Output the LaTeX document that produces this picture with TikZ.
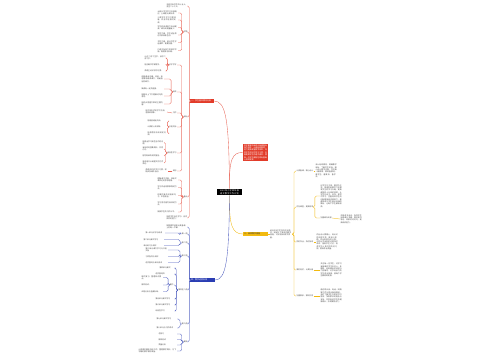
\documentclass[tikz,border=0pt]{standalone}
\usepackage{fontspec}
\setmainfont{Noto Sans CJK SC}
\XeTeXlinebreaklocale "zh"
\XeTeXlinebreakskip=0pt plus 0.5pt
\definecolor{mapred}{HTML}{E23B29}
\definecolor{mapblue}{HTML}{2A3DB3}
\definecolor{mapyellow}{HTML}{F2BA10}
\definecolor{leafgray}{HTML}{4A4A4A}

\begin{document}
\begin{tikzpicture}[x=1pt, y=-1pt]
        \tikzstyle{root} = [rectangle, fill=black, text=white, align=center, text width=23pt, inner sep=0.8pt, font=\fontsize{2.1}{2.7}\selectfont]
        \tikzstyle{mainbox} = [rectangle, text=white, align=left, inner sep=0.8pt, font=\fontsize{2}{2.5}\selectfont]
        \tikzstyle{leaf} = [text=leafgray, align=left, inner sep=0.3pt, font=\fontsize{1.85}{2.3}\selectfont]
        \tikzstyle{lab} = [text=leafgray, inner sep=0.3pt, font=\fontsize{1.85}{2.3}\selectfont]
        \tikzstyle{redline} = [draw=mapred!80, line width=0.35pt, rounded corners=1.5pt]
        \tikzstyle{blueline} = [draw=mapblue!85, line width=0.35pt, rounded corners=1.5pt]
        \tikzstyle{yellowline} = [draw=mapyellow, line width=0.35pt, rounded corners=1.5pt]

        \fill[white] (0,0) rectangle (500,360);
        \useasboundingbox (0,0) rectangle (500,360);

        % centre and the four main boxes
        \node [root] (title) at (229.5,192) {2023年小学四年级语文教学工作计划};
        \node [mainbox, fill=mapred, text width=22pt] (analysis) at (202,101) {一、学生基本情况分析};
        \node [mainbox, fill=mapred, text width=23pt, font=\fontsize{1.9}{2.4}\selectfont] (guide) at (255.5,152.5) {本学期我将继续以新课程标准为指导，认真钻研教材，努力提高课堂教学效率，培养学生良好的学习习惯，全面提高学生的语文素养，使每一位学生都能在原有基础上得到发展。};
        \node [mainbox, fill=mapyellow, text=black!80, text width=23pt] (measures) at (255.5,234) {三、具体教学措施};
        \node [mainbox, fill=mapblue, text width=23pt] (schedule) at (202.5,280) {四、教学进度安排};

        \path [redline] (title.north) .. controls (229,120) and (226,101) .. (analysis.east);
        \path [redline] (title.north) .. controls (229,160) and (232,152) .. (guide.west);
        \path [yellowline] (title.south) .. controls (229,225) and (232,234) .. (measures.west);
        \path [blueline] (title.south) .. controls (229,260) and (226,280) .. (schedule.east);

        % red branch
        \node [leaf, text width=21pt, anchor=east] (r0) at (188,6) {本班共有学生四十五人，男生二十三人。};
        \node [lab, anchor=east] (rA) at (188,32) {学情};
        \node [lab, anchor=east] (rB) at (188,117) {目标};
        \node [lab, anchor=east] (rC) at (188,197) {重点};
        \node [leaf, text width=21pt, anchor=east] (r9) at (188,218) {培养学生自主学习、合作探究的能力。};
        \foreach \n in {r0,rA,rB,rC,r9}
            \path [redline] (analysis.west) -- ++(-0.8,0) |- (\n.east);

        \node [leaf, text width=20pt, anchor=east] (a1) at (178,13) {大部分学生学习态度端正，上课能认真听讲。};
        \node [leaf, text width=20pt, anchor=east] (a2) at (178,20) {少数学生学习习惯较差，作业不能按时完成。};
        \node [leaf, text width=20pt, anchor=east] (a3) at (178,27.5) {学生的阅读能力有待提高，课外阅读量偏少。};
        \node [leaf, text width=20pt, anchor=east] (a4) at (178,35) {写作方面，学生语言表达不够具体生动。};
        \node [leaf, text width=20pt, anchor=east] (a5) at (178,42.5) {书写方面，部分学生字迹潦草，需要加强。};
        \node [leaf, text width=20pt, anchor=east] (a6) at (178,50.5) {口语交际能力发展不平衡，需要多加训练。};
        \foreach \n in {a1,a2,a3,a4,a5,a6}
            \path [redline] (rA.west) -- ++(-1.5,0) |- (\n.east);

        \node [lab, anchor=east] (b1) at (177,65) {识字写字};
        \node [lab, anchor=east] (b2) at (177,92) {阅读};
        \node [lab, anchor=east] (b3) at (177,113) {习作};
        \node [lab, anchor=east] (b4) at (177,127) {口语交际};
        \node [lab, anchor=east] (b5) at (177,153) {综合性学习};
        \node [lab, anchor=east] (b6) at (177,171) {其他};
        \foreach \n in {b1,b2,b3,b4,b5,b6}
            \path [redline] (rB.west) -- ++(-1.5,0) |- (\n.east);

        \node [leaf, text width=22pt, anchor=east] (b11) at (167,58) {认识二百个生字，会写二百个字。};
        \node [leaf, text width=22pt, anchor=east] (b12) at (167,64.5) {能正确书写钢笔字。};
        \node [leaf, text width=22pt, anchor=east] (b13) at (167,71) {养成主动识字的习惯。};
        \foreach \n in {b11,b12,b13}
            \path [redline] (b1.west) -- ++(-1.2,0) |- (\n.east);
        \node [leaf, text width=22pt, anchor=east] (b21) at (164,79) {用普通话正确、流利、有感情地朗读课文，背诵指定的课文。};
        \node [leaf, text width=22pt, anchor=east] (b22) at (164,89) {默读有一定的速度。};
        \node [leaf, text width=22pt, anchor=east] (b23) at (164,96) {能联系上下文理解词句的意思。};
        \node [leaf, text width=22pt, anchor=east] (b24) at (164,104) {能初步把握文章的主要内容。};
        \foreach \n in {b21,b22,b23,b24}
            \path [redline] (b2.west) -- ++(-1.2,0) |- (\n.east);
        \node [leaf, text width=21pt, anchor=east] (b31) at (167,112) {能不拘形式地写下见闻、感受和想象。};
        \path [redline] (b3.west) -- (b31.east);
        \node [leaf, text width=20pt, anchor=east] (b41) at (168,121) {能用普通话交谈。};
        \node [leaf, text width=20pt, anchor=east] (b42) at (168,127) {认真耐心地倾听。};
        \node [leaf, text width=20pt, anchor=east] (b43) at (168,133.5) {能清楚明白地讲述见闻。};
        \foreach \n in {b41,b42,b43}
            \path [redline] (b4.west) -- ++(-1.2,0) |- (\n.east);
        \node [leaf, text width=21pt, anchor=east] (b51) at (164,142.5) {能提出学习和生活中的问题。};
        \node [leaf, text width=21pt, anchor=east] (b52) at (164,149) {有目的地搜集资料，共同讨论。};
        \node [leaf, text width=21pt, anchor=east] (b53) at (164,156) {能写简单的研究报告。};
        \node [leaf, text width=21pt, anchor=east] (b54) at (164,163) {尝试用口头或图文的方式表达。};
        \foreach \n in {b51,b52,b53,b54}
            \path [redline] (b5.west) -- ++(-1.2,0) |- (\n.east);
        \node [leaf, text width=22pt, anchor=east] (b61) at (168,171) {养成良好的学习习惯，积极参加课外活动。};
        \path [redline] (b6.west) -- (b61.east);

        \node [leaf, text width=20pt, anchor=east] (c1) at (178,180) {理解课文内容，体会文章表达的思想感情。};
        \node [leaf, text width=20pt, anchor=east] (c2) at (178,187.5) {学习作者观察事物的方法。};
        \node [leaf, text width=20pt, anchor=east] (c3) at (178,195.5) {积累优美的词语和句子，丰富语言。};
        \node [leaf, text width=20pt, anchor=east] (c4) at (178,204) {学习把内容写具体的方法。};
        \node [leaf, text width=20pt, anchor=east] (c5) at (178,212) {提高学生的习作水平。};
        \foreach \n in {c1,c2,c3,c4,c5}
            \path [redline] (rC.west) -- ++(-1.5,0) |- (\n.east);

        % blue branch
        \node [leaf, text width=21pt, anchor=east] (u0) at (188,227) {按照教学进度认真备课，上好每一节课。};
        \node [lab, anchor=east] (uA) at (188,234) {第一周};
        \node [lab, anchor=east] (uB) at (188,243) {第二周};
        \node [lab, anchor=east] (uC) at (188,256) {第三周};
        \node [lab, anchor=east] (uD) at (188,290) {第四至八周};
        \node [lab, anchor=east] (uE) at (188,324) {第九周};
        \node [lab, anchor=east] (uF) at (188,342) {期末};
        \foreach \n in {u0,uA,uB,uC,uD,uE,uF}
            \path [blueline] (schedule.west) -- ++(-0.8,0) |- (\n.east);

        \node [leaf, text width=19pt, anchor=east] (uA1) at (165,233) {第一单元识字与阅读};
        \path [blueline] (uA.west) -- ++(-1.5,0) |- (uA1.east);
        \node [leaf, text width=20pt, anchor=east] (uB1) at (164,239.5) {第二单元课文学习};
        \node [leaf, text width=20pt, anchor=east] (uB2) at (164,245.5) {单元练习与讲评};
        \foreach \n in {uB1,uB2}
            \path [blueline] (uB.west) -- ++(-1.5,0) |- (\n.east);
        \node [leaf, text width=22pt, anchor=east] (uC1) at (168,250) {第三单元课文学习与口语交际};
        \node [leaf, text width=22pt, anchor=east] (uC2) at (168,256.5) {习作指导与讲评};
        \node [leaf, text width=22pt, anchor=east] (uC3) at (168,262.5) {语文园地与单元测试};
        \foreach \n in {uC1,uC2,uC3}
            \path [blueline] (uC.west) -- ++(-1.5,0) |- (\n.east);

        \node [leaf, text width=16pt, anchor=east] (uD1) at (176,268) {第四单元课文};
        \node [leaf, text width=20pt, anchor=east] (uD2) at (176,274) {语文园地四};
        \node [lab, anchor=east] (uD3) at (174,285) {期中};
        \node [leaf, text width=20pt, anchor=east] (uD4) at (176,299) {第五单元课文学习};
        \node [leaf, text width=20pt, anchor=east] (uD5) at (176,305) {第六单元课文学习};
        \node [leaf, text width=20pt, anchor=east] (uD6) at (176,311) {综合性学习};
        \foreach \n in {uD1,uD2,uD3,uD4,uD5,uD6}
            \path [blueline] (uD.west) -- ++(-1.5,0) |- (\n.east);
        \node [leaf, text width=21pt, anchor=east] (uD31) at (163,277.5) {期中复习，整理知识要点。};
        \node [leaf, text width=21pt, anchor=east] (uD32) at (163,285) {期中测试。};
        \node [leaf, text width=21pt, anchor=east] (uD33) at (163,291.5) {试卷分析与查漏补缺。};
        \foreach \n in {uD31,uD32,uD33}
            \path [blueline] (uD3.west) -- ++(-1.2,0) |- (\n.east);

        \node [leaf, text width=20pt, anchor=east] (uE1) at (177,319) {第七单元课文学习};
        \node [leaf, text width=20pt, anchor=east] (uE2) at (177,328) {第八单元与习作讲评};
        \foreach \n in {uE1,uE2}
            \path [blueline] (uE.west) -- ++(-1.5,0) |- (\n.east);
        \node [leaf, text width=18pt, anchor=east] (uF1) at (177,334) {总复习};
        \node [leaf, text width=18pt, anchor=east] (uF2) at (177,339.5) {期末测试};
        \node [leaf, text width=18pt, anchor=east] (uF3) at (177,345) {质量分析};
        \node [leaf, text width=38pt, anchor=east] (uF4) at (177,351) {认真做好期末总结工作，整理教学资料，为下学期的教学做好准备。};
        \foreach \n in {uF1,uF2,uF3,uF4}
            \path [blueline] (uF.west) -- ++(-1.5,0) |- (\n.east);

        % yellow branch
        \node [leaf, text width=22pt] (intro) at (281,234) {结合本班学生的实际情况，制定以下具体的教学措施，切实提高教学质量。};
        \path [yellowline] (measures.east) -- (intro.west);
        \node [lab, anchor=west] (y1) at (296,171) {认真备课，精心设计};
        \node [lab, anchor=west] (y2) at (296,207) {优化课堂，提高效率};
        \node [lab, anchor=west] (y3) at (296,242) {抓好作业，及时批改};
        \node [lab, anchor=west] (y4) at (296,270) {做好培优，认真补差};
        \node [lab, anchor=west] (y5) at (296,296) {加强联系，家校共育};
        \foreach \n in {y1,y2,y3,y4,y5}
            \path [yellowline] (intro.east) -- ++(1.5,0) |- (\n.west);

        \node [leaf, text width=22pt, anchor=west] (y11) at (315,171) {深入钻研教材，明确教学目标，了解学生实际，精心设计教学过程，写好每一篇教案，做到备教材、备学生、备教法、备学法。};
        \path [yellowline] (y1.east) -- (y11.west);
        \node [leaf, text width=22pt, anchor=west] (y21) at (320,196) {以学生为主体，教师为主导，采用多种教学方法激发学生的学习兴趣，提高课堂四十分钟的效率，让学生在自主、合作、探究中学习，注重培养学生的创新精神和实践能力，使课堂成为学生展示自我的舞台，让每个学生都有收获。};
        \node [lab, anchor=west] (y22) at (320,218) {加强课外阅读};
        \node [leaf, text width=22pt, anchor=west] (y221) at (340,219) {开展读书活动，指导学生阅读课外书籍，做好读书笔记，积累好词好句，提高阅读能力。};
        \foreach \n in {y21,y22}
            \path [yellowline] (y2.east) -- ++(1.2,0) |- (\n.west);
        \path [yellowline] (y22.east) -- (y221.west);
        \node [leaf, text width=22pt, anchor=west] (y31) at (316,242) {作业设计要精心，有针对性和层次性，做到少而精。作业批改及时认真，对作业中出现的问题及时讲评，督促学生订正，培养学生认真书写的好习惯，提高作业质量。};
        \path [yellowline] (y3.east) -- (y31.west);
        \node [leaf, text width=22pt, anchor=west] (y41) at (320,270) {关注每一位学生，对学习有困难的学生多关心、多鼓励，利用课余时间进行个别辅导，对学有余力的学生适当拓展，使每个学生都得到发展。};
        \path [yellowline] (y4.east) -- (y41.west);
        \node [leaf, text width=22pt, anchor=west] (y51) at (320,296) {通过家长会、电话、网络等方式与家长保持联系，及时了解学生在家的学习情况，争取家长的配合与支持，共同促进学生的健康成长，形成教育合力。};
        \path [yellowline] (y5.east) -- (y51.west);
    \end{tikzpicture}
\end{document}
